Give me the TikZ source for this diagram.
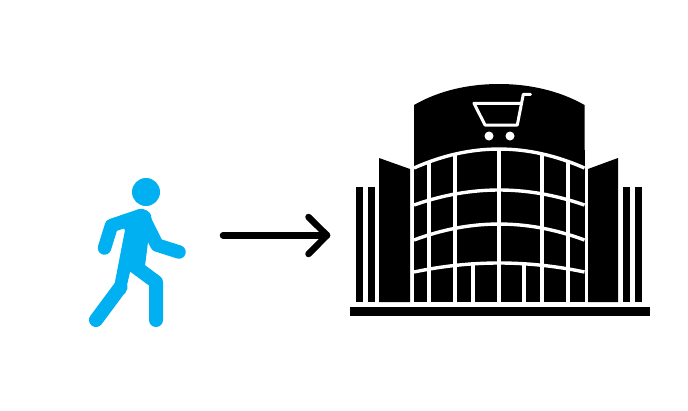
\documentclass[tikz,border=0pt]{standalone}
\definecolor{walker}{HTML}{00B0F0}
\tikzset{
  limb/.style={draw=walker,line width=13.5pt,line cap=round,line join=round},
  glassline/.style={draw=white,line width=3.4pt},
  blackfill/.style={fill=black,draw=none},
  cartline/.style={draw=white,line width=3pt,line cap=round,line join=round},
  pointer/.style={draw=black,line width=6.5pt,line cap=round,line join=round}
}
\begin{document}
\begin{tikzpicture}[x=1pt,y=-1pt]
\useasboundingbox (0,0) rectangle (688,410);
% walker
\fill[walker] (146,192) circle (14);
\draw[limb] (141,215.5) -- (111.5,225.5) -- (104.5,248);
\draw[limb] (143,217) -- (157,245) -- (179,252);
\draw[limb,line width=14pt] (120.5,287) -- (96,320);
\draw[limb,line width=14pt] (135,266.5) -- (156,282) -- (156,320);
\fill[walker] (139,209.5) .. controls (145,208.5) and (149,211) .. (151,215) -- (153,230) -- (148,242) -- (145,266) -- (130,272) -- (125,294) -- (114,287) -- (125,230) -- (118,222) -- cycle;
% arrow
\coordinate (tail) at (223,235.3);
\coordinate (tip) at (327,235.3);
\coordinate (barbA) at (308.5,217);
\coordinate (barbB) at (308.5,254);
\draw[pointer] (tail) -- (tip);
\draw[pointer] (barbA) -- (tip) -- (barbB);
% base and side bars
\fill[blackfill] (350,307) rectangle (650,316);
\foreach \xa/\xb in {356/363,368/375,623/630,635/642}
  \fill[blackfill] (\xa,187) rectangle (\xb,302);
% wings
\fill[blackfill] (379,158) -- (410,169) -- (410,302) -- (379,302) -- cycle;
\fill[blackfill] (618,158) -- (588,169) -- (588,302) -- (618,302) -- cycle;
% glass
\fill[blackfill] (414,150) rectangle (584.5,302);
\foreach \x in {429,455,499,542,568}
  \draw[glassline] (\x,140) -- (\x,303);
\foreach \x in {473,524}
  \draw[glassline] (\x,262) -- (\x,303);
% drum
\fill[blackfill] (414,168) -- (414,105) .. controls (440,90) and (470,84) .. (499,84) .. controls (528,84) and (558,90) .. (584.5,105) -- (584.5,168) .. controls (527,142.7) and (471,142.7) .. (414,168) -- cycle;
% floor arcs
\draw[glassline] (414,168) .. controls (471,142.7) and (527,142.7) .. (584.5,168);
\draw[glassline] (414,205) .. controls (471,185) and (527,185) .. (584.5,205);
\draw[glassline] (414,240) .. controls (471,218.7) and (527,218.7) .. (584.5,240);
\draw[glassline] (414,272) .. controls (471,260) and (527,260) .. (584.5,272);
% cart
\draw[cartline] (530.5,94.3) -- (523.3,94.3) -- (517.3,125) -- (485,125) -- (474,103.3) -- (520.5,103.3);
\fill[white] (489,136) circle (4.5);
\fill[white] (510,136) circle (4.5);
\end{tikzpicture}
\end{document}
